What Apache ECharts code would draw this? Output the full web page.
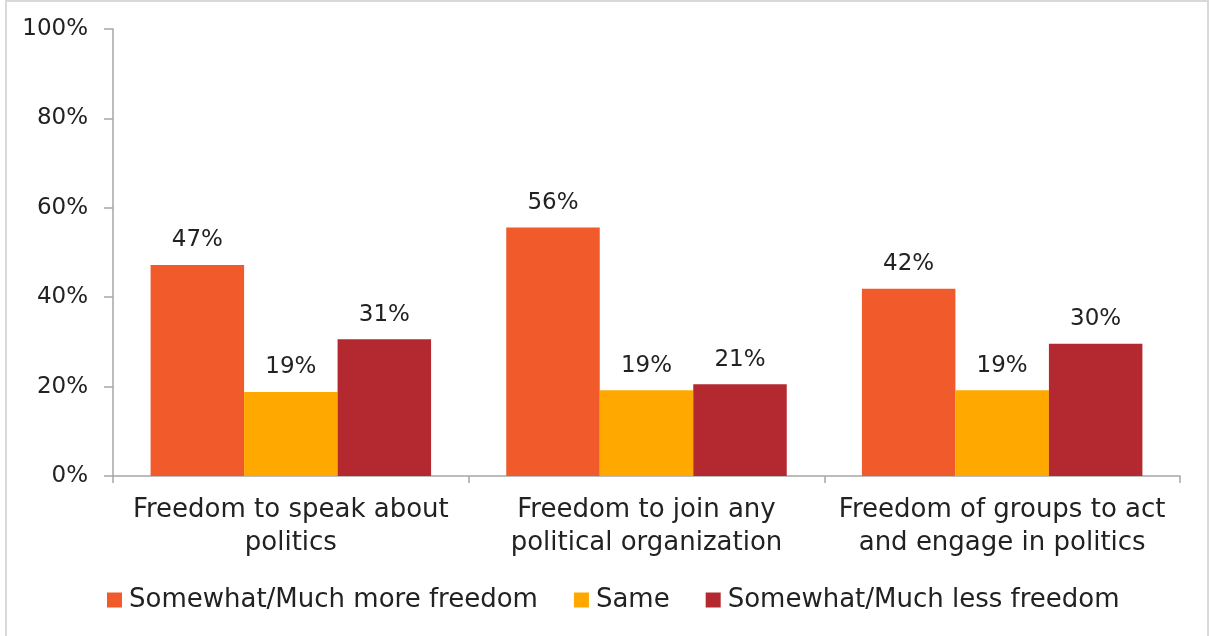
<!doctype html>
<html>
<head>
<meta charset="utf-8">
<title>Freedom comparison</title>
<script src="https://cdn.jsdelivr.net/npm/echarts@6/dist/echarts.min.js"></script>
<style>
  html, body { margin: 0; padding: 0; background: #fff; }
  #main { width: 1209px; height: 636px; }
</style>
</head>
<body>
<div id="main"></div>
<script>
var categories = [
    'Freedom to speak about\npolitics',
    'Freedom to join any\npolitical organization',
    'Freedom of groups to act\nand engage in politics'
];
var seriesNames = ['Somewhat/Much more freedom', 'Same', 'Somewhat/Much less freedom'];
var moreFreedom = [47.2, 55.6, 41.9];
var sameFreedom = [18.8, 19.2, 19.2];
var lessFreedom = [30.6, 20.5, 29.6];
var yTicks = [0, 20, 40, 60, 80, 100];

var colors = ['#F15A2B', '#FFA900', '#B4292F'];
var font = 'DejaVu Sans';

var chart = echarts.init(document.getElementById('main'), null, { renderer: 'canvas' });

function makeSeries(name, data, color) {
    return {
        name: name,
        type: 'bar',
        data: data,
        barWidth: 93.5,
        barGap: '0%',
        itemStyle: { color: color },
        label: {
            show: true,
            position: 'top',
            distance: 13,
            fontFamily: font,
            fontSize: 23,
            color: '#222',
            formatter: function (p) { return Math.round(p.value) + '%'; }
        }
    };
}

chart.setOption({
    animation: false,
    backgroundColor: '#fff',
    graphic: [{
        type: 'rect',
        shape: { x: 6, y: 1, width: 1202, height: 660 },
        style: { fill: 'none', stroke: '#d9d9d9', lineWidth: 2 },
        silent: true
    }],
    grid: { left: 113, right: 29, top: 29, bottom: 160 },
    legend: {
        left: 102,
        top: 582,
        icon: 'rect',
        itemWidth: 15,
        itemHeight: 15,
        itemGap: 36,
        textStyle: { fontFamily: font, fontSize: 26, color: '#222', padding: [0, 0, 0, 2] },
        data: seriesNames
    },
    xAxis: {
        type: 'category',
        data: categories,
        axisLine: { lineStyle: { color: '#a6a6a6', width: 1.5 } },
        axisTick: { show: true, interval: 0, length: 7, lineStyle: { color: '#a6a6a6', width: 1.5 } },
        axisLabel: {
            interval: 0,
            margin: 18,
            fontFamily: font,
            fontSize: 26,
            lineHeight: 33,
            color: '#222'
        }
    },
    yAxis: {
        type: 'value',
        min: yTicks[0],
        max: yTicks[yTicks.length - 1],
        interval: 20,
        splitLine: { show: false },
        axisLine: { show: true, lineStyle: { color: '#a6a6a6', width: 1.5 } },
        axisTick: { show: true, length: 9, lineStyle: { color: '#a6a6a6', width: 1.5 } },
        axisLabel: {
            margin: 25,
            fontFamily: font,
            fontSize: 23,
            color: '#222',
            formatter: '{value}%'
        }
    },
    series: [
        makeSeries(seriesNames[0], moreFreedom, colors[0]),
        makeSeries(seriesNames[1], sameFreedom, colors[1]),
        makeSeries(seriesNames[2], lessFreedom, colors[2])
    ]
});

window.onresize = chart.resize;
</script>
</body>
</html>
